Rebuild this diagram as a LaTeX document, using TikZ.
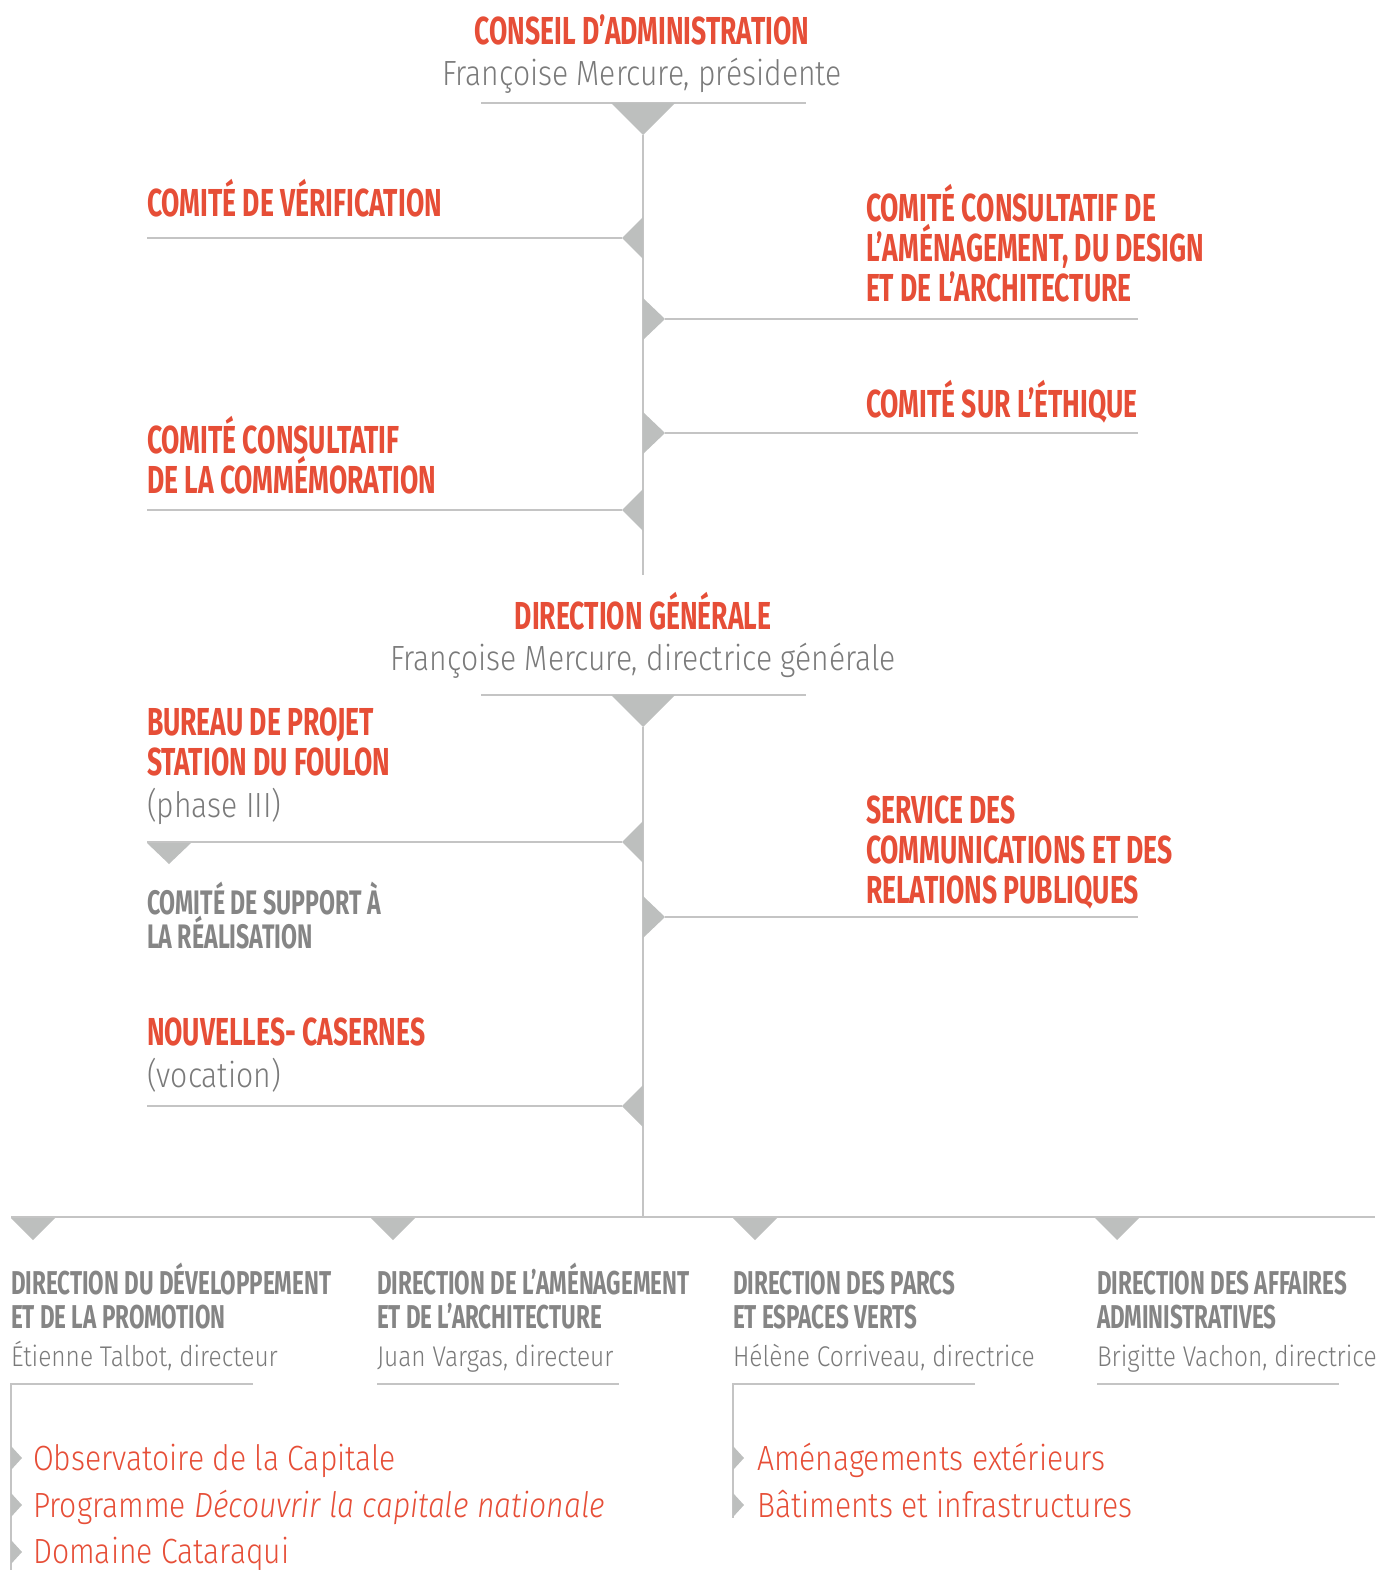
\documentclass[tikz,border=0pt]{standalone}
\usepackage{fontspec}
\setmainfont{Fira Sans}
\newfontfamily\headfont[FakeStretch=0.68]{Fira Sans}
\newfontfamily\bodyfont[FakeStretch=0.86, UprightFont=* Light, ItalicFont=* Light Italic]{Fira Sans}
\definecolor{ored}{HTML}{E64E37}
\definecolor{tgray}{HTML}{7A7A7A}
\definecolor{hgray}{HTML}{858585}
\definecolor{lgray}{HTML}{C4C4C4}
\definecolor{trigray}{HTML}{BDBFBE}
\tikzset{
  natspace/.style={execute at begin node={\spaceskip=0pt\relax\xspaceskip=0pt\relax}},
  redhead/.style={anchor=base west, inner sep=0pt, outer sep=0pt, text=ored, text width=560pt, align=left,
     natspace, font=\headfont\bfseries\fontsize{39}{40}\selectfont},
  centerhead/.style={anchor=base, inner sep=0pt, outer sep=0pt, text=ored, font=\headfont\bfseries\fontsize{39}{40}\selectfont},
  grayhead/.style={anchor=base west, inner sep=0pt, outer sep=0pt, text=hgray, text width=360pt, align=left,
     natspace, font=\headfont\bfseries\fontsize{33}{34}\selectfont},
  smallgrayhead/.style={grayhead, font=\headfont\bfseries\fontsize{34}{33}\selectfont},
  subtext/.style={anchor=base west, inner sep=0pt, outer sep=0pt, text=tgray, font=\bodyfont\fontsize{35}{40}\selectfont},
  centersub/.style={subtext, anchor=base},
  nametext/.style={subtext, font=\bodyfont\fontsize{28.5}{34}\selectfont},
  itemtext/.style={anchor=base west, inner sep=0pt, outer sep=0pt, text=ored, font=\bodyfont\fontsize{35}{38}\selectfont},
  hline/.style={draw=lgray, line width=1.5pt},
  tri/.style={fill=trigray, draw=none},
}
\begin{document}
\begin{tikzpicture}[x=1pt,y=-1pt]
\useasboundingbox (0,0) rectangle (1379,1570);

% ---------- Conseil d'administration ----------
\node[centerhead] (ca) at (642,45) {CONSEIL D’ADMINISTRATION};
\node[centersub] (caname) at (642,86) {Françoise Mercure, présidente};
\coordinate (caL) at (481,103);
\coordinate (caR) at (806,103);
\draw[hline] (caL) -- (caR);
\path[tri] (611,103) -- (675,103) -- (643,135) -- cycle;
\coordinate (top) at (643,135);
\coordinate (topend) at (643,575);
\draw[hline] (top) -- (topend);

% left branches
\node[redhead] (cv) at (147,217) {COMITÉ DE VÉRIFICATION};
\coordinate (cvL) at (147,238); \coordinate (cvT) at (622,238);
\draw[hline] (cvL) -- (cvT);
\path[tri] (cvT) -- (643,217) -- (643,259) -- cycle;

\node[redhead] (ccc) at (147,453) {COMITÉ CONSULTATIF\\DE LA COMMÉMORATION};
\coordinate (cccL) at (147,510); \coordinate (cccT) at (622,510);
\draw[hline] (cccL) -- (cccT);
\path[tri] (cccT) -- (643,489) -- (643,531) -- cycle;

% right branches
\node[redhead] (ccada) at (866,222) {COMITÉ CONSULTATIF DE\\L’AMÉNAGEMENT, DU DESIGN\\ET DE L’ARCHITECTURE};
\coordinate (ccadaT) at (665,319); \coordinate (ccadaR) at (1138,319);
\draw[hline] (ccadaT) -- (ccadaR);
\path[tri] (ccadaT) -- (643,298) -- (643,340) -- cycle;

\node[redhead] (ce) at (866,417) {COMITÉ SUR L’ÉTHIQUE};
\coordinate (ceT) at (665,433); \coordinate (ceR) at (1138,433);
\draw[hline] (ceT) -- (ceR);
\path[tri] (ceT) -- (643,412) -- (643,454) -- cycle;

% ---------- Direction generale ----------
\node[centerhead] (dg) at (643,629) {DIRECTION GÉNÉRALE};
\node[centersub] (dgname) at (643,670) {Françoise Mercure, directrice générale};
\coordinate (dgL) at (481,695);
\coordinate (dgR) at (806,695);
\draw[hline] (dgL) -- (dgR);
\path[tri] (611,695) -- (675,695) -- (643,727) -- cycle;
\coordinate (dgtop) at (643,727);
\coordinate (hub) at (643,1217);
\draw[hline] (dgtop) -- (hub);

\node[redhead] (bp) at (147,735) {BUREAU DE PROJET\\STATION DU FOULON};
\node[subtext] (bpphase) at (147,817) {(phase III)};
\coordinate (bpL) at (147,842); \coordinate (bpT) at (622,842);
\draw[hline] (bpL) -- (bpT);
\path[tri] (bpT) -- (643,821) -- (643,863) -- cycle;
\path[tri] (147,843) -- (191,843) -- (169,864) -- cycle;
\node[smallgrayhead] (csr) at (147,914) {COMITÉ DE SUPPORT À\\LA RÉALISATION};

\node[redhead] (scrp) at (866,823) {SERVICE DES\\COMMUNICATIONS ET DES\\RELATIONS PUBLIQUES};
\coordinate (scrpT) at (665,917); \coordinate (scrpR) at (1138,917);
\draw[hline] (scrpT) -- (scrpR);
\path[tri] (scrpT) -- (643,896) -- (643,938) -- cycle;

\node[redhead] (nc) at (147,1045) {NOUVELLES- CASERNES};
\node[subtext] (ncvoc) at (147,1087) {(vocation)};
\coordinate (ncL) at (147,1106); \coordinate (ncT) at (622,1106);
\draw[hline] (ncL) -- (ncT);
\path[tri] (ncT) -- (643,1085) -- (643,1127) -- cycle;

% ---------- Directions ----------
\coordinate (busL) at (11,1217);
\coordinate (busR) at (1375,1217);
\draw[hline] (busL) -- (busR);
\foreach \x in {11,371,733,1095}{
  \path[tri] (\x,1218) -- (\x+44,1218) -- (\x+22,1240) -- cycle;
}

\node[grayhead] (d1) at (11,1294) {DIRECTION DU DÉVELOPPEMENT\\ET DE LA PROMOTION};
\node[nametext] (d1n) at (11,1366) {Étienne Talbot, directeur};
\node[grayhead] (d2) at (377,1294) {DIRECTION DE L’AMÉNAGEMENT\\ET DE L’ARCHITECTURE};
\node[nametext] (d2n) at (377,1366) {Juan Vargas, directeur};
\node[grayhead] (d3) at (733,1294) {DIRECTION DES PARCS\\ET ESPACES VERTS};
\node[nametext] (d3n) at (733,1366) {Hélène Corriveau, directrice};
\node[grayhead] (d4) at (1097,1294) {DIRECTION DES AFFAIRES\\ADMINISTRATIVES};
\node[nametext] (d4n) at (1097,1366) {Brigitte Vachon, directrice};

\coordinate (d1a) at (11,1384); \coordinate (d1b) at (253,1384);
\coordinate (d2a) at (377,1384); \coordinate (d2b) at (619,1384);
\coordinate (d3a) at (733,1384); \coordinate (d3b) at (975,1384);
\coordinate (d4a) at (1097,1384); \coordinate (d4b) at (1339,1384);
\draw[hline] (d1b) -- (d1a) -- (11,1570);
\draw[hline] (d2a) -- (d2b);
\draw[hline] (d3b) -- (d3a) -- (733,1518);
\draw[hline] (d4a) -- (d4b);

\foreach \y in {1458,1505,1552}{
  \path[tri] (11,\y-12) -- (22,\y) -- (11,\y+12) -- cycle;
}
\foreach \y in {1458,1505}{
  \path[tri] (733,\y-12) -- (744,\y) -- (733,\y+12) -- cycle;
}
\node[itemtext] (i1) at (33,1470) {Observatoire de la Capitale};
\node[itemtext] (i2) at (33,1517) {Programme \textit{Découvrir la capitale nationale}};
\node[itemtext] (i3) at (33,1563) {Domaine Cataraqui};
\node[itemtext] (i4) at (757,1470) {Aménagements extérieurs};
\node[itemtext] (i5) at (757,1517) {Bâtiments et infrastructures};
\end{tikzpicture}
\end{document}
